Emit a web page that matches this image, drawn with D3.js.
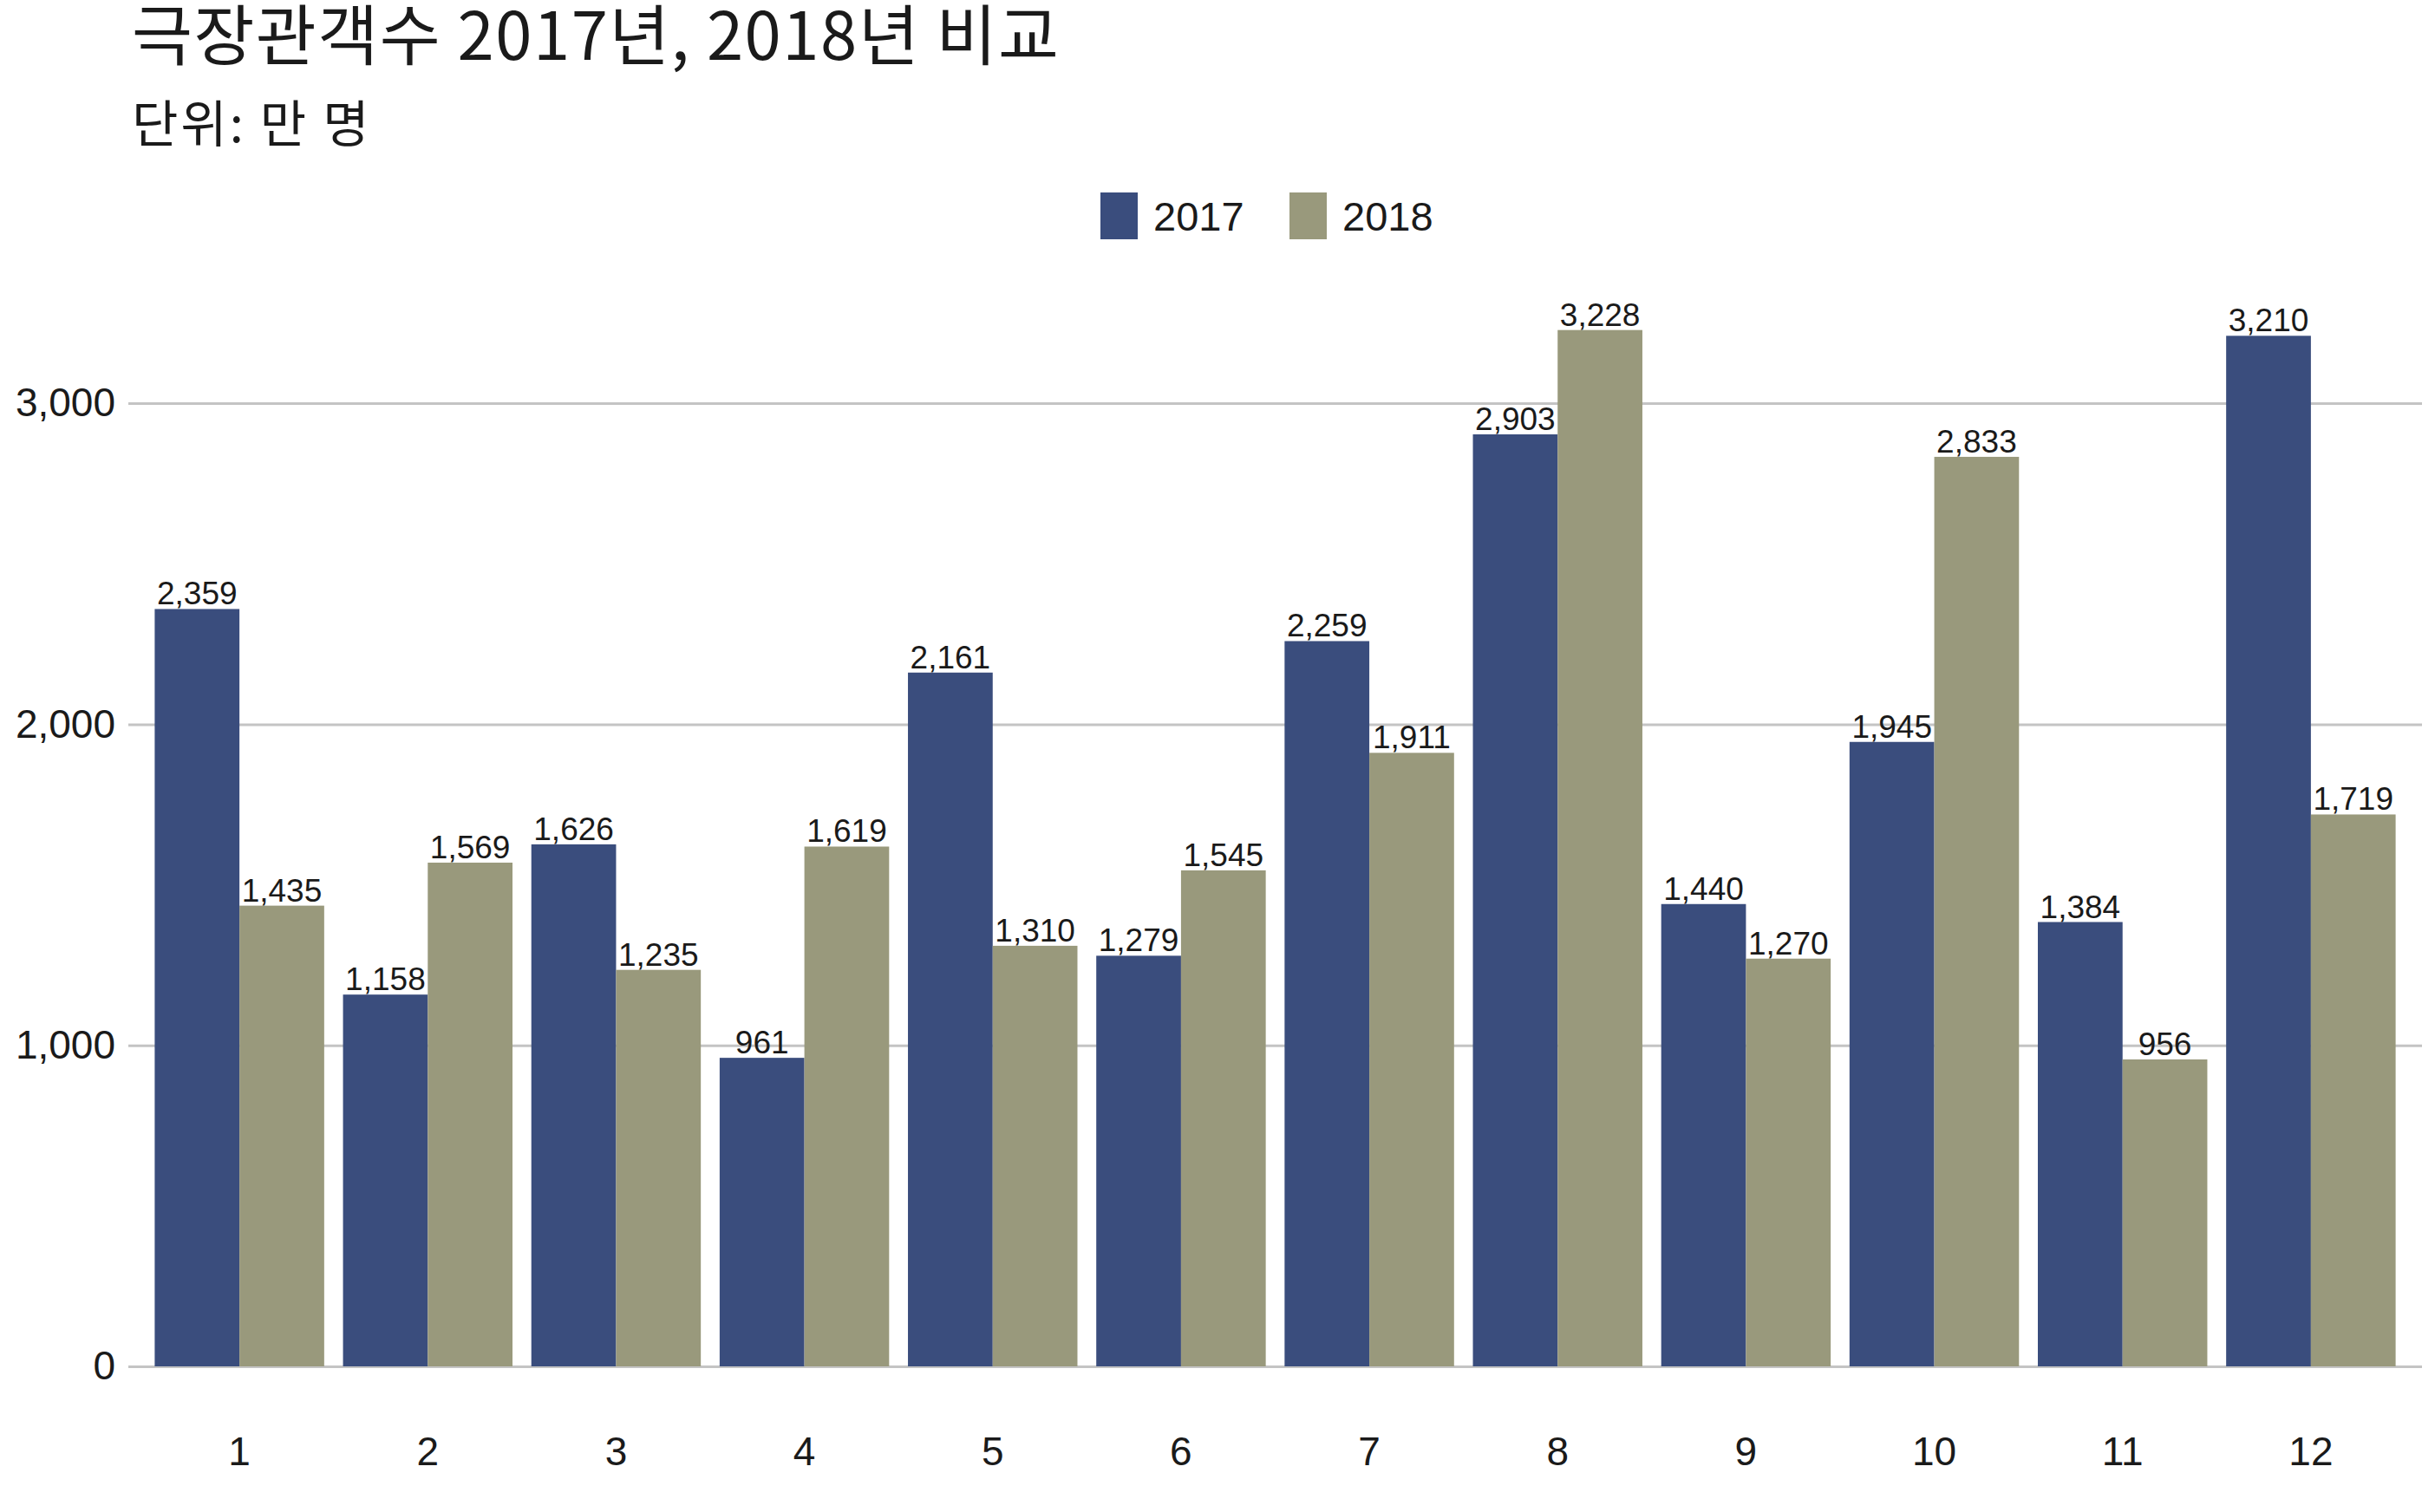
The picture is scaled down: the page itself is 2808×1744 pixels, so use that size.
<!DOCTYPE html>
<html>
<head>
<meta charset="utf-8">
<script src="https://cdn.jsdelivr.net/npm/d3@7"></script>
<style>
  body { margin: 0; background: #fff; }
  svg { display: block; }
  .num { font-family: "Liberation Sans", Arial, sans-serif; fill: #1a1a1a; }
</style>
</head>
<body>
<div id="chart"></div>
<script>
const months = ["1", "2", "3", "4", "5", "6", "7", "8", "9", "10", "11", "12"]
const seriesNames = ["2017", "2018"]
const values2017 = [2359, 1158, 1626, 961, 2161, 1279, 2259, 2903, 1440, 1945, 1384, 3210]
const values2018 = [1435, 1569, 1235, 1619, 1310, 1545, 1911, 3228, 1270, 2833, 956, 1719]
const yTicks = [0, 1000, 2000, 3000]
const colors = ["#3a4d7d", "#99997c"]

const width = 2808
const height = 1744
const plot = { left: 148, right: 2793, top: 354, bottom: 1576 }

const svg = d3.select("#chart")
  .append("svg")
  .attr("width", width)
  .attr("height", height)

// title
svg.append("text")
  .attr("x", 152)
  .attr("y", 69)
  .style("font-family", "'Noto Sans CJK KR', sans-serif")
  .style("font-size", "76px")
  .style("letter-spacing", "1.5px")
  .attr("fill", "#1a1a1a")
  .text("극장관객수 2017년, 2018년 비교")

svg.append("text")
  .attr("x", 152)
  .attr("y", 164)
  .style("font-family", "'Noto Sans CJK KR', sans-serif")
  .style("font-size", "58px")
  .style("letter-spacing", "3px")
  .attr("fill", "#1a1a1a")
  .text("단위: 만 명")

const x0 = d3.scaleBand()
  .domain(months)
  .range([plot.left, plot.right])
  .paddingInner(0.1)
  .paddingOuter(0.14)

const x1 = d3.scaleBand()
  .domain(seriesNames)
  .range([0, x0.bandwidth()])

const y = d3.scaleLinear()
  .domain([0, 3300])
  .range([plot.bottom, plot.top])

const color = d3.scaleOrdinal().domain(seriesNames).range(colors)

// grid + y labels
const yAxis = svg.append("g")
  .attr("transform", "translate(" + plot.left + ",0)")
  .call(d3.axisLeft(y)
    .tickValues(yTicks)
    .tickFormat(d3.format(","))
    .tickSize(-(plot.right - plot.left))
    .tickPadding(15))
yAxis.select(".domain").remove()
yAxis.selectAll(".tick line")
  .attr("stroke", "#c4c4c4")
  .attr("stroke-width", 3)
yAxis.selectAll(".tick text")
  .attr("class", "num")
  .style("font-size", "46px")

// x labels
const xAxis = svg.append("g")
  .attr("transform", "translate(0," + plot.bottom + ")")
  .call(d3.axisBottom(x0).tickSize(0).tickPadding(81))
xAxis.select(".domain").remove()
xAxis.selectAll(".tick text")
  .attr("class", "num")
  .style("font-size", "46px")

const rows = months.map((m, i) => ({
  month: m,
  items: [
    { key: "2017", value: values2017[i] },
    { key: "2018", value: values2018[i] }
  ]
}))

const groups = svg.append("g")
  .selectAll("g")
  .data(rows)
  .enter()
  .append("g")
  .attr("transform", d => "translate(" + x0(d.month) + ",0)")

groups.selectAll("rect")
  .data(d => d.items)
  .enter()
  .append("rect")
  .attr("x", d => x1(d.key))
  .attr("y", d => y(d.value))
  .attr("width", x1.bandwidth())
  .attr("height", d => y(0) - y(d.value))
  .attr("fill", d => color(d.key))

groups.selectAll("text")
  .data(d => d.items)
  .enter()
  .append("text")
  .attr("class", "num")
  .attr("x", d => x1(d.key) + x1.bandwidth() / 2)
  .attr("y", d => y(d.value) - 5)
  .attr("text-anchor", "middle")
  .style("font-size", "37px")
  .text(d => d3.format(",")(d.value))

// legend
const legendX = [1269, 1487]
const legend = svg.append("g")
  .selectAll("g")
  .data(seriesNames)
  .enter()
  .append("g")
  .attr("transform", (d, i) => "translate(" + legendX[i] + ",222)")
legend.append("rect")
  .attr("width", 43)
  .attr("height", 54)
  .attr("fill", d => color(d))
legend.append("text")
  .attr("class", "num")
  .attr("x", 61)
  .attr("y", 44)
  .style("font-size", "47px")
  .text(d => d)
</script>
</body>
</html>
